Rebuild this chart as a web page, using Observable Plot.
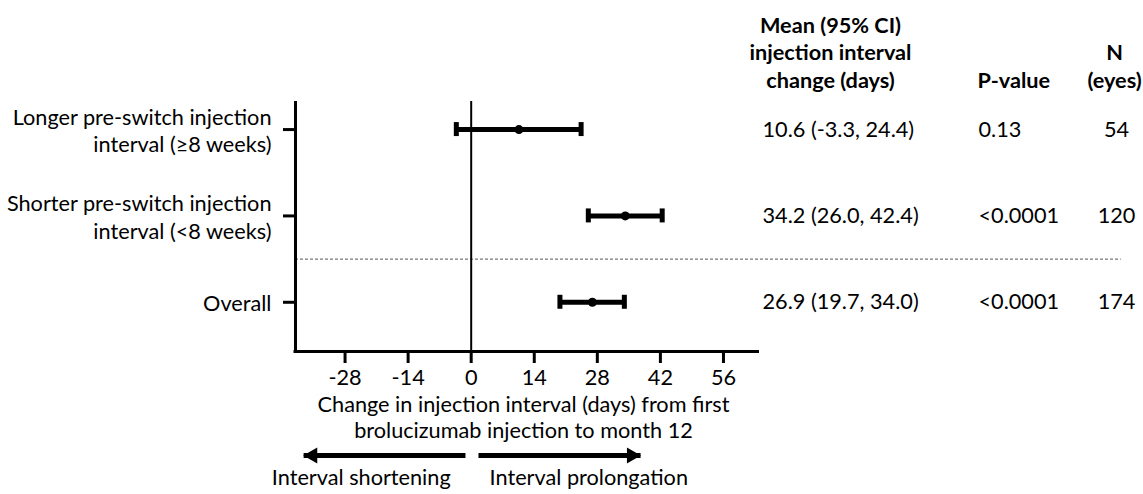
<!DOCTYPE html>
<html><head><meta charset="utf-8">
<script src="https://cdn.jsdelivr.net/npm/d3@7"></script>
<script src="https://cdn.jsdelivr.net/npm/@observablehq/plot@0.6"></script>
<style>body{margin:0;background:#fff}</style>
</head><body><div id="chart"></div>
<script>
const groups = ["Longer pre-switch injection\ninterval (≥8 weeks)", "Shorter pre-switch injection\ninterval (<8 weeks)", "Overall"];
const means = [10.6, 34.2, 26.9];
const lower = [-3.3, 26.0, 19.7];
const upper = [24.4, 42.4, 34.0];
const ciText = ["10.6 (-3.3, 24.4)", "34.2 (26.0, 42.4)", "26.9 (19.7, 34.0)"];
const pValues = ["0.13", "<0.0001", "<0.0001"];
const nEyes = ["54", "120", "174"];
const xTicks = [-28, -14, 0, 14, 28, 42, 56];
const xDomain = [-39, 64];
const yDomain = [-0.325, 2.57];
const headerCI = "Mean (95% CI)\ninjection interval\nchange (days)";
const headerP = "P-value";
const headerN = "N\n(eyes)";
const xLabel = "Change in injection interval (days) from first\nbrolucizumab injection to month 12";
const dividerAt = 1.5;
const dividerEnd = 144.3;
const arrowRow = 3.774;
const arrowLabels = ["Interval shortening", "Interval prolongation"];
const arrowFrom = [-1.27, 1.62];
const arrowTo = [-37.2, 37.6];
const arrowLabelX = [-24.4, 26.1];

const rows = groups.map((g, i) => ({i, g, mean: means[i], lo: lower[i], hi: upper[i], ci: ciText[i], p: pValues[i], n: nEyes[i]}));
const caps = rows.flatMap(d => [{i: d.i, x: d.lo}, {i: d.i, x: d.hi}]);
const arrows = arrowLabels.map((t, k) => ({t, from: arrowFrom[k], to: arrowTo[k], lx: arrowLabelX[k]}));

const FS = 21.7;
const chart = Plot.plot({
  width: 1143, height: 494,
  marginLeft: 295, marginRight: 384, marginTop: 101, marginBottom: 143,
  style: {fontFamily: "Lato, sans-serif", fontSize: FS + "px", color: "black", background: "white", overflow: "visible"},
  x: {domain: xDomain},
  y: {domain: yDomain, reverse: true},
  marks: [
    Plot.ruleY([dividerAt], {x1: xDomain[0], x2: dividerEnd, stroke: "#555", strokeWidth: 1, strokeDasharray: "3,2"}),
    Plot.ruleX([0], {stroke: "black", strokeWidth: 2}),
    Plot.ruleX([xDomain[0]], {stroke: "black", strokeWidth: 3}),
    Plot.ruleY([yDomain[1]], {x1: xDomain[0] - 0.33, x2: xDomain[1], stroke: "black", strokeWidth: 3}),
    Plot.axisX({ticks: xTicks, tickFormat: d => String(d), tickSize: 12, strokeWidth: 3, tickPadding: 6, fontSize: FS, label: null}),
    Plot.axisY({ticks: [0, 1, 2], tickFormat: i => groups[i], tickSize: 12, strokeWidth: 3, tickPadding: 12, fontSize: FS, lineHeight: 1.27, label: null}),
    Plot.ruleY(rows, {y: "i", x1: "lo", x2: "hi", stroke: "black", strokeWidth: 5}),
    Plot.ruleX(caps, {x: "x", y1: d => d.i - 0.081, y2: d => d.i + 0.081, stroke: "black", strokeWidth: 5}),
    Plot.dot(rows, {x: "mean", y: "i", r: 4.5, fill: "black"}),
    Plot.text(rows, {y: "i", text: "ci", frameAnchor: "right", dx: 3, textAnchor: "start", fontSize: FS}),
    Plot.text(rows, {y: "i", text: "p", frameAnchor: "right", dx: 219, textAnchor: "start", fontSize: FS}),
    Plot.text(rows, {y: "i", text: "n", frameAnchor: "right", dx: 357, textAnchor: "middle", fontSize: FS}),
    Plot.text([headerCI], {frameAnchor: "top-right", dx: 71, dy: -14, textAnchor: "middle", lineAnchor: "bottom", fontWeight: "bold", lineHeight: 1.25, fontSize: FS}),
    Plot.text([headerP], {frameAnchor: "top-right", dx: 218, dy: -14, textAnchor: "start", lineAnchor: "bottom", fontWeight: "bold", fontSize: FS}),
    Plot.text([headerN], {frameAnchor: "top-right", dx: 355, dy: -14, textAnchor: "middle", lineAnchor: "bottom", fontWeight: "bold", lineHeight: 1.25, fontSize: FS}),
    Plot.text([xLabel], {frameAnchor: "bottom", dx: -4, dy: 42, lineAnchor: "top", textAnchor: "middle", lineHeight: 1.2, fontSize: FS}),
    Plot.link(arrows, {x1: "from", x2: "to", y1: () => arrowRow, y2: () => arrowRow, stroke: "black", strokeWidth: 5}),
    Plot.dot(arrows.slice(0, 1), {x: "to", y: () => arrowRow, symbol: "triangle", rotate: -90, r: 6, fill: "black", dx: 9}),
    Plot.dot(arrows.slice(1), {x: "to", y: () => arrowRow, symbol: "triangle", rotate: 90, r: 6, fill: "black", dx: -9}),
    Plot.text(arrows, {x: "lx", y: () => arrowRow, text: "t", dy: 23, textAnchor: "middle", fontSize: FS})
  ]
});
document.getElementById("chart").append(chart);
</script>
</body></html>
